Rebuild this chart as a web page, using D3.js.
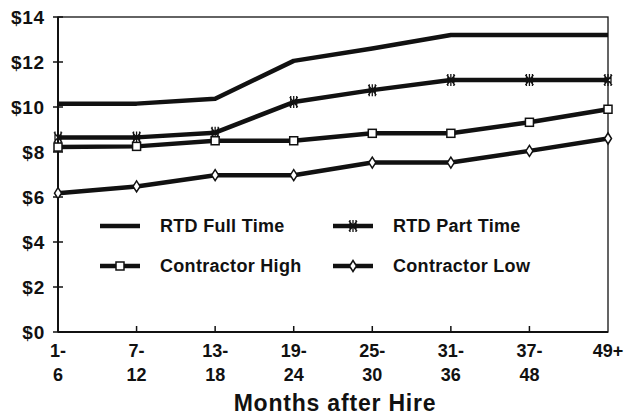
<!DOCTYPE html>
<html>
<head>
<meta charset="utf-8">
<script src="https://cdn.jsdelivr.net/npm/d3@7"></script>
<style>
  body { margin: 0; background: #fff; }
  text { font-family: "Liberation Sans", Arial, sans-serif; font-weight: bold; fill: #111; }
</style>
</head>
<body>
<div id="chart"></div>
<script>
// data
var categories = ["1-6", "7-12", "13-18", "19-24", "25-30", "31-36", "37-48", "49+"];
var tickLines = [["1-", "6"], ["7-", "12"], ["13-", "18"], ["19-", "24"], ["25-", "30"], ["31-", "36"], ["37-", "48"], ["49+"]];
var fullTime = [10.15, 10.15, 10.37, 12.05, 12.6, 13.2, 13.2, 13.2];
var partTime = [8.65, 8.65, 8.86, 10.22, 10.75, 11.2, 11.2, 11.2];
var contractorHigh = [8.22, 8.25, 8.5, 8.5, 8.83, 8.83, 9.32, 9.9];
var contractorLow = [6.17, 6.47, 6.97, 6.97, 7.53, 7.53, 8.05, 8.6];
var yTicks = [0, 2, 4, 6, 8, 10, 12, 14];

var series = [
  { name: "RTD Full Time", values: fullTime, marker: "none" },
  { name: "RTD Part Time", values: partTime, marker: "star" },
  { name: "Contractor High", values: contractorHigh, marker: "square" },
  { name: "Contractor Low", values: contractorLow, marker: "diamond" }
];

var W = 628, H = 415;
var margin = { top: 17, right: 20, bottom: 83, left: 58 };
var width = W - margin.left - margin.right,
    height = H - margin.top - margin.bottom;

var svg = d3.select("#chart").append("svg")
  .attr("width", W).attr("height", H);
var g = svg.append("g")
  .attr("transform", "translate(" + margin.left + "," + margin.top + ")");

var x = d3.scalePoint().domain(categories).range([0, width]);
var y = d3.scaleLinear().domain([0, 14]).range([height, 0]);

var ink = "#111";

// frame
g.append("rect")
  .attr("x", 0).attr("y", 0).attr("width", width).attr("height", height)
  .attr("fill", "none").attr("stroke", ink).attr("stroke-width", 1.3);
g.append("line")
  .attr("x1", 0).attr("x2", width).attr("y1", height).attr("y2", height)
  .attr("stroke", ink).attr("stroke-width", 2);
g.append("line")
  .attr("x1", 0).attr("x2", 0).attr("y1", 0).attr("y2", height)
  .attr("stroke", ink).attr("stroke-width", 2);

// y axis ticks and labels
g.selectAll(".ytick")
  .data(yTicks)
  .enter().append("line")
  .attr("x1", -5).attr("x2", 5)
  .attr("y1", d => y(d)).attr("y2", d => y(d))
  .attr("stroke", ink).attr("stroke-width", 1.5);
g.selectAll(".ylab")
  .data(yTicks)
  .enter().append("text")
  .attr("x", -13).attr("y", d => y(d))
  .attr("dy", "0.36em")
  .attr("text-anchor", "end")
  .attr("font-size", 19)
  .attr("letter-spacing", 0.8)
  .text(d => "$" + d);

// x axis ticks (inside, pointing up)
g.selectAll(".xtick")
  .data(categories.slice(1, -1))
  .enter().append("line")
  .attr("x1", d => x(d)).attr("x2", d => x(d))
  .attr("y1", height).attr("y2", height - 6)
  .attr("stroke", ink).attr("stroke-width", 1.5);

var xl = g.selectAll(".xlab")
  .data(categories)
  .enter().append("text")
  .attr("text-anchor", "middle")
  .attr("font-size", 18)
  .attr("transform", d => "translate(" + x(d) + "," + (height + 25) + ")");
xl.selectAll("tspan")
  .data((d, i) => tickLines[i])
  .enter().append("tspan")
  .attr("x", 0)
  .attr("dy", (d, i) => i === 0 ? 0 : 24)
  .text(d => d);

svg.append("text")
  .attr("x", 335).attr("y", 411)
  .attr("text-anchor", "middle")
  .attr("font-size", 23)
  .attr("letter-spacing", 0.8)
  .text("Months after Hire");

// lines
var line = d3.line()
  .x((d, i) => x(categories[i]))
  .y(d => y(d));

g.selectAll(".series")
  .data(series)
  .enter().append("path")
  .attr("d", d => line(d.values))
  .attr("fill", "none")
  .attr("stroke", ink)
  .attr("stroke-width", 4.5)
  .attr("stroke-linejoin", "round");

function drawMarker(sel, type) {
  if (type === "square") {
    sel.append("rect")
      .attr("x", -4).attr("y", -4).attr("width", 8).attr("height", 8)
      .attr("fill", "#fff").attr("stroke", ink).attr("stroke-width", 1.5);
  } else if (type === "diamond") {
    sel.append("path")
      .attr("d", "M0,-5.5L3.5,0L0,5.5L-3.5,0Z")
      .attr("fill", "#fff").attr("stroke", ink).attr("stroke-width", 1.5);
  } else if (type === "star") {
    sel.append("path")
      .attr("d", "M0,-6V6M-4,-5L4,5M-4,5L4,-5M-3,-6V6M3,-6V6")
      .attr("stroke", ink).attr("stroke-width", 1.3);
  }
}

series.forEach(function (s) {
  if (s.marker === "none") return;
  g.selectAll(null)
    .data(s.values)
    .enter().append("g")
    .attr("transform", (d, i) => "translate(" + x(categories[i]) + "," + y(d) + ")")
    .each(function () { drawMarker(d3.select(this), s.marker); });
});

// legend
var legendPos = [
  { x: 100, y: 226 }, { x: 333, y: 226 },
  { x: 100, y: 266 }, { x: 333, y: 266 }
];
series.forEach(function (s, k) {
  var p = legendPos[k];
  var lg = svg.append("g").attr("transform", "translate(" + p.x + "," + p.y + ")");
  lg.append("line")
    .attr("x1", 0).attr("x2", 40).attr("y1", 0).attr("y2", 0)
    .attr("stroke", ink).attr("stroke-width", 4.5);
  drawMarker(lg.append("g").attr("transform", "translate(20,0)"), s.marker);
  lg.append("text")
    .attr("x", 60).attr("y", 0).attr("dy", "0.36em")
    .attr("font-size", 18)
    .attr("letter-spacing", 0.3)
    .text(s.name);
});
</script>
</body>
</html>
